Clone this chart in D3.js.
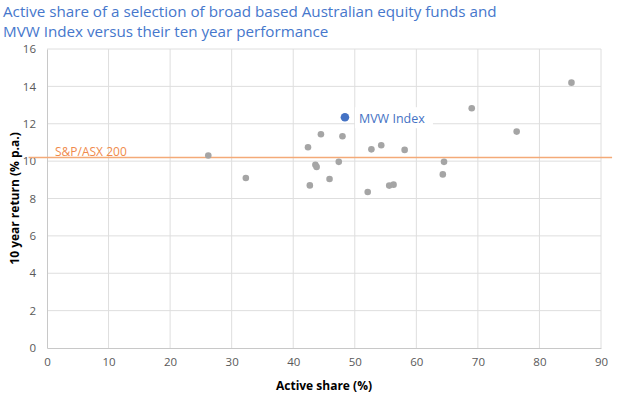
<!DOCTYPE html>
<html>
<head>
<meta charset="utf-8">
<script src="https://cdn.jsdelivr.net/npm/d3@7"></script>
<style>
  body { margin: 0; background: #fff; }
  text { font-family: "Open Sans", "Noto Sans", sans-serif; }
</style>
</head>
<body>
<div id="chart"></div>
<script>
// fund points: active share (%) and 10 year return (% p.a.)
const activeShare = [85.2, 69.0, 76.3, 44.5, 48.0, 42.4, 52.7, 54.3, 58.1, 26.2, 64.5,
                     47.4, 43.6, 43.8, 64.3, 32.3, 45.9, 42.7, 55.6, 56.3, 52.1];
const tenYearReturn = [14.2, 12.83, 11.58, 11.44, 11.33, 10.74, 10.63, 10.85, 10.6, 10.3, 9.96,
                       9.96, 9.8, 9.69, 9.29, 9.1, 9.04, 8.7, 8.69, 8.74, 8.35];
const mvwIndex = {name: "MVW Index", share: 48.4, ret: 12.35};
const benchmark = {name: "S&P/ASX 200", ret: 10.2};
const xTicks = [0, 10, 20, 30, 40, 50, 60, 70, 80, 90];
const yTicks = [0, 2, 4, 6, 8, 10, 12, 14, 16];

const margin = {top: 49, right: 17, bottom: 51, left: 47},
    width = 618 - margin.left - margin.right,
    height = 399 - margin.top - margin.bottom;

const svg = d3.select("#chart")
  .append("svg")
    .attr("width", 618)
    .attr("height", 399);

// title
const title = svg.append("text")
    .attr("x", 3)
    .attr("fill", "#4677cc")
    .style("font-size", "15.2px");
title.append("tspan").attr("x", 3).attr("y", 17)
    .text("Active share of a selection of broad based Australian equity funds and");
title.append("tspan").attr("x", 3).attr("y", 37)
    .text("MVW Index versus their ten year performance");

const g = svg.append("g")
    .attr("transform", `translate(${margin.left},${margin.top})`);

const x = d3.scaleLinear().domain([0, 90]).range([0, width]);
const y = d3.scaleLinear().domain([0, 16]).range([height, 0]);

// gridlines
g.append("g")
  .selectAll("line")
  .data(yTicks.slice(1))
  .join("line")
    .attr("x1", 0).attr("x2", width)
    .attr("y1", d => y(d)).attr("y2", d => y(d))
    .attr("stroke", "#dedede");
g.append("g")
  .selectAll("line")
  .data(xTicks.slice(1))
  .join("line")
    .attr("x1", d => x(d)).attr("x2", d => x(d))
    .attr("y1", 0).attr("y2", height)
    .attr("stroke", "#dedede");

// axes
const xAxis = g.append("g")
    .attr("transform", `translate(0,${height})`)
    .call(d3.axisBottom(x).tickValues(xTicks).tickSize(0).tickPadding(10));
const yAxis = g.append("g")
    .call(d3.axisLeft(y).tickValues(yTicks).tickSize(0).tickPadding(11));
[xAxis, yAxis].forEach(a => {
  a.select(".domain").attr("stroke", "#c8c8c8");
  a.selectAll("text").attr("fill", "#595959").style("font-size", "11.5px")
    .style("font-family", "'Open Sans', sans-serif");
});

// axis titles
svg.append("text")
    .attr("x", margin.left + width / 2)
    .attr("y", 390)
    .attr("text-anchor", "middle")
    .style("font-size", "12px")
    .style("font-weight", "bold")
    .text("Active share (%)");
svg.append("text")
    .attr("transform", `translate(19,${margin.top + height / 2}) rotate(-90)`)
    .attr("text-anchor", "middle")
    .style("font-size", "12px")
    .style("font-weight", "bold")
    .text("10 year return (% p.a.)");

// benchmark line
g.append("line")
    .attr("x1", x(-3)).attr("x2", x(91.8))
    .attr("y1", y(benchmark.ret)).attr("y2", y(benchmark.ret))
    .attr("stroke", "#f4aa78")
    .attr("stroke-width", 1.5);
g.append("text")
    .attr("x", x(1.3))
    .attr("y", y(benchmark.ret) - 1)
    .attr("fill", "#f08a4b")
    .style("font-size", "12px")
    .text(benchmark.name);

// funds
g.append("g")
  .selectAll("circle")
  .data(activeShare.map((s, i) => ({share: s, ret: tenYearReturn[i]})))
  .join("circle")
    .attr("cx", d => x(d.share))
    .attr("cy", d => y(d.ret))
    .attr("r", 3.3)
    .attr("fill", "#a5a5a5");

// MVW index
const lbl = g.append("g");
lbl.append("rect")
    .attr("x", x(mvwIndex.share) + 10)
    .attr("y", y(mvwIndex.ret) - 10)
    .attr("width", 78)
    .attr("height", 21)
    .attr("fill", "#fff");
lbl.append("text")
    .attr("x", x(mvwIndex.share) + 14)
    .attr("y", y(mvwIndex.ret) + 6)
    .attr("fill", "#4472c4")
    .style("font-size", "12.5px")
    .text(mvwIndex.name);
g.append("circle")
    .attr("cx", x(mvwIndex.share))
    .attr("cy", y(mvwIndex.ret))
    .attr("r", 4.3)
    .attr("fill", "#4472c4");
</script>
</body>
</html>
